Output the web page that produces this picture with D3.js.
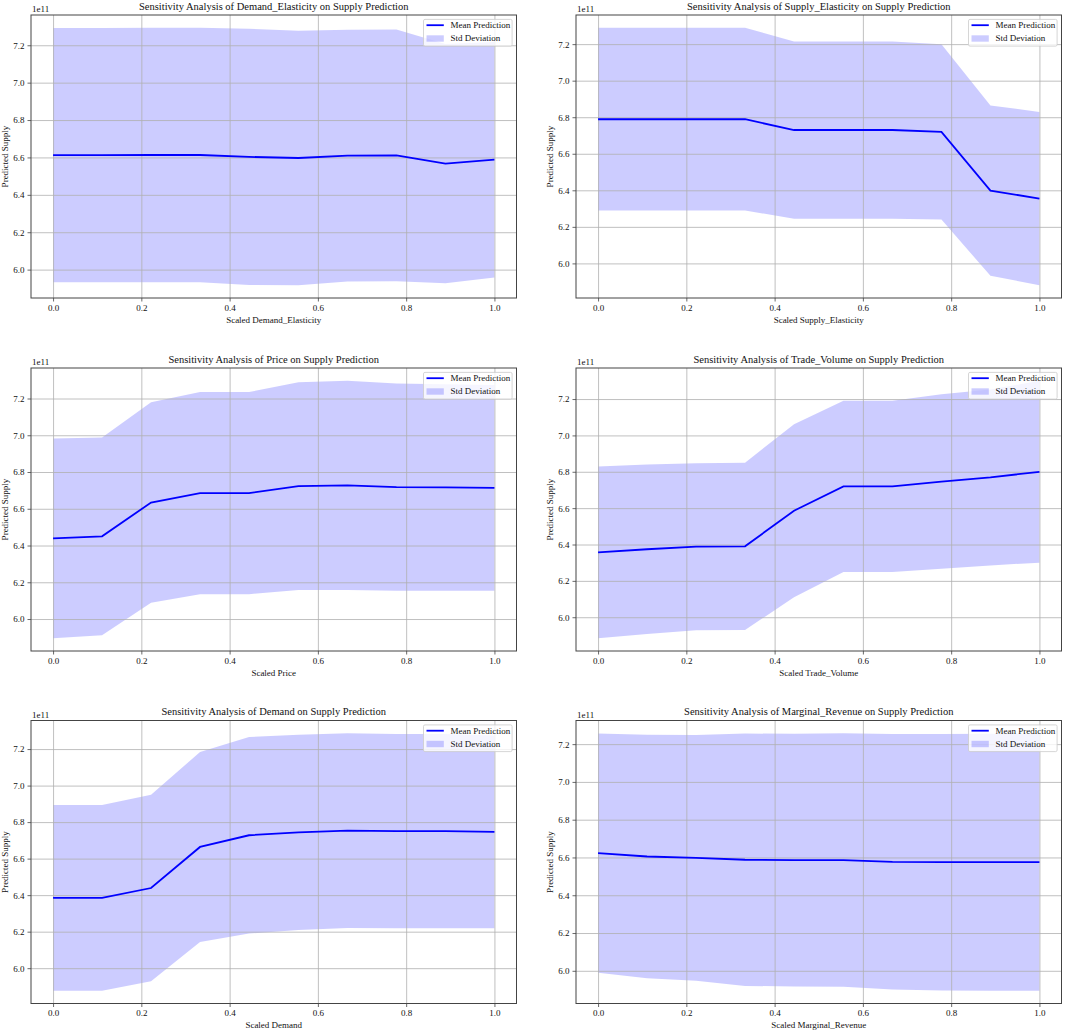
<!DOCTYPE html>
<html>
<head>
<meta charset="utf-8">
<script src="https://cdn.jsdelivr.net/npm/d3@7"></script>
<style>
  body { margin: 0; background: #fff; }
  svg text { font-family: "Liberation Serif", "Times New Roman", serif; fill: #111; }
</style>
</head>
<body>
<div class="canvas"></div>
<script>
// ------------------------ data (values in units of 1e11)
const xValues = [0.000, 0.111, 0.222, 0.333, 0.444, 0.556, 0.667, 0.778, 0.889, 1.000];
const xTicks = [0.0, 0.2, 0.4, 0.6, 0.8, 1.0];
const yTicks = [6.0, 6.2, 6.4, 6.6, 6.8, 7.0, 7.2];

const features = ['Demand_Elasticity', 'Supply_Elasticity', 'Price', 'Trade_Volume', 'Demand', 'Marginal_Revenue'];

const meanDemandElasticity = [6.612, 6.612, 6.613, 6.613, 6.603, 6.597, 6.610, 6.611, 6.567, 6.588];
const stdDemandElasticity  = [0.680, 0.680, 0.680, 0.680, 0.685, 0.680, 0.673, 0.673, 0.640, 0.630];

const meanSupplyElasticity = [6.789, 6.789, 6.789, 6.789, 6.730, 6.730, 6.730, 6.720, 6.398, 6.355];
const stdSupplyElasticity  = [0.500, 0.500, 0.500, 0.500, 0.485, 0.485, 0.485, 0.480, 0.466, 0.474];

const meanPrice = [6.439, 6.450, 6.634, 6.685, 6.685, 6.723, 6.727, 6.718, 6.716, 6.714];
const stdPrice  = [0.543, 0.538, 0.545, 0.550, 0.550, 0.565, 0.569, 0.564, 0.562, 0.560];

const meanTradeVolume = [6.357, 6.374, 6.388, 6.390, 6.586, 6.720, 6.720, 6.746, 6.769, 6.800];
const stdTradeVolume  = [0.472, 0.466, 0.459, 0.460, 0.476, 0.471, 0.471, 0.480, 0.484, 0.500];

const meanDemand = [6.385, 6.385, 6.439, 6.664, 6.728, 6.744, 6.753, 6.751, 6.751, 6.746];
const stdDemand  = [0.508, 0.508, 0.511, 0.520, 0.538, 0.535, 0.533, 0.532, 0.532, 0.528];

const meanMarginalRevenue = [6.623, 6.605, 6.598, 6.588, 6.586, 6.586, 6.577, 6.575, 6.575, 6.575];
const stdMarginalRevenue  = [0.633, 0.645, 0.651, 0.668, 0.669, 0.671, 0.676, 0.679, 0.680, 0.680];

const means = [meanDemandElasticity, meanSupplyElasticity, meanPrice, meanTradeVolume, meanDemand, meanMarginalRevenue];
const stds  = [stdDemandElasticity, stdSupplyElasticity, stdPrice, stdTradeVolume, stdDemand, stdMarginalRevenue];

// ------------------------ layout
const dims = { width: 1065, height: 1032 };
const panel = { width: 485.5, height: 283 };
const colLeft = [31, 576];
const rowTop = [15, 368, 720.5];

const svg = d3.select('.canvas')
  .append('svg')
  .attr('width', dims.width)
  .attr('height', dims.height);

const fmt = d3.format('.1f');

features.forEach((name, k) => {
  const mean = means[k], std = stds[k];
  const rows = xValues.map((x, i) => ({ x, mean: mean[i], lo: mean[i] - std[i], hi: mean[i] + std[i] }));

  // matplotlib style autoscale: 5% margin on each side
  const xMin = d3.min(xValues), xMax = d3.max(xValues);
  const yMin = d3.min(rows, d => d.lo), yMax = d3.max(rows, d => d.hi);
  const xPad = (xMax - xMin) * 0.05, yPad = (yMax - yMin) * 0.05;

  const x = d3.scaleLinear().domain([xMin - xPad, xMax + xPad]).range([0, panel.width]);
  const y = d3.scaleLinear().domain([yMin - yPad, yMax + yPad]).range([panel.height, 0]);

  const g = svg.append('g')
    .attr('transform', `translate(${colLeft[k % 2]}, ${rowTop[Math.floor(k / 2)]})`);

  // std band (drawn first, grid goes over it)
  const area = d3.area().x(d => x(d.x)).y0(d => y(d.lo)).y1(d => y(d.hi));
  g.append('path')
    .datum(rows)
    .attr('d', area)
    .attr('fill', 'rgba(0,0,255,0.2)');

  // grid
  g.append('g')
    .attr('transform', `translate(0, ${panel.height})`)
    .call(d3.axisBottom(x).tickValues(xTicks).tickSize(-panel.height).tickFormat(''))
    .call(s => s.select('.domain').remove())
    .call(s => s.selectAll('line').attr('stroke', '#b0b0b0').attr('stroke-width', 0.8));
  g.append('g')
    .call(d3.axisLeft(y).tickValues(yTicks).tickSize(-panel.width).tickFormat(''))
    .call(s => s.select('.domain').remove())
    .call(s => s.selectAll('line').attr('stroke', '#b0b0b0').attr('stroke-width', 0.8));

  // mean line
  const line = d3.line().x(d => x(d.x)).y(d => y(d.mean));
  g.append('path')
    .datum(rows)
    .attr('d', line)
    .attr('fill', 'none')
    .attr('stroke', '#0000ff')
    .attr('stroke-width', 1.8);

  // axes with ticks
  const xAxis = g.append('g')
    .attr('transform', `translate(0, ${panel.height})`)
    .call(d3.axisBottom(x).tickValues(xTicks).tickFormat(fmt).tickSize(3.5).tickPadding(3));
  const yAxis = g.append('g')
    .call(d3.axisLeft(y).tickValues(yTicks).tickFormat(fmt).tickSize(3.5).tickPadding(3));
  [xAxis, yAxis].forEach(a => {
    a.select('.domain').remove();
    a.selectAll('line').attr('stroke', '#444').attr('stroke-width', 0.8);
    a.selectAll('text').attr('font-size', '9px').attr('font-family', null).attr('fill', '#111');
  });

  // spines
  g.append('rect')
    .attr('width', panel.width)
    .attr('height', panel.height)
    .attr('fill', 'none')
    .attr('stroke', '#444')
    .attr('stroke-width', 1);

  // texts
  g.append('text')
    .attr('x', panel.width / 2)
    .attr('y', -5.5)
    .attr('text-anchor', 'middle')
    .style('font-size', '10.5px')
    .text(`Sensitivity Analysis of ${name} on Supply Prediction`);

  g.append('text')
    .attr('x', 1)
    .attr('y', -3)
    .style('font-size', '9px')
    .text('1e11');

  g.append('text')
    .attr('x', panel.width / 2)
    .attr('y', panel.height + 24.5)
    .attr('text-anchor', 'middle')
    .style('font-size', '9px')
    .text(`Scaled ${name}`);

  g.append('text')
    .attr('transform', `translate(-23, ${panel.height / 2}) rotate(-90)`)
    .attr('text-anchor', 'middle')
    .style('font-size', '9px')
    .text('Predicted Supply');

  // legend, upper right
  const lg = g.append('g').attr('transform', `translate(${panel.width - 93}, 4.4)`);
  lg.append('rect')
    .attr('width', 88.6).attr('height', 26.7)
    .attr('rx', 1.5)
    .attr('fill', 'rgba(255,255,255,0.8)')
    .attr('stroke', '#cccccc').attr('stroke-width', 0.8);
  lg.append('line')
    .attr('x1', 3).attr('x2', 20.3).attr('y1', 5.8).attr('y2', 5.8)
    .attr('stroke', '#0000ff').attr('stroke-width', 1.8);
  lg.append('rect')
    .attr('x', 3).attr('y', 15.9).attr('width', 17.3).attr('height', 6.4)
    .attr('fill', 'rgba(0,0,255,0.2)');
  lg.append('text').attr('x', 27).attr('y', 9).style('font-size', '9px').text('Mean Prediction');
  lg.append('text').attr('x', 27).attr('y', 22).style('font-size', '9px').text('Std Deviation');
});
</script>
</body>
</html>
